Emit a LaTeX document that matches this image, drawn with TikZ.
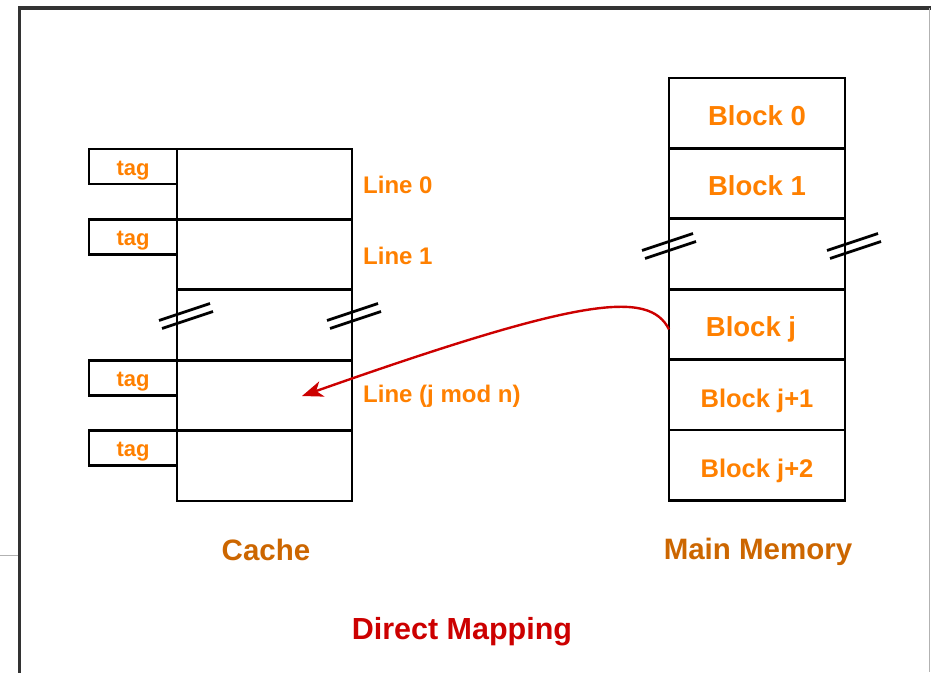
\documentclass[tikz,border=0pt]{standalone}
\usepackage{fontspec}
\setmainfont{Liberation Sans}
\usetikzlibrary{arrows.meta}

\definecolor{lblorange}{RGB}{255,128,0}
\definecolor{capbrown}{RGB}{204,102,0}
\definecolor{maproute}{RGB}{204,0,0}

\tikzset{
  slot/.style={draw, line width=2.8pt, minimum width=175pt, minimum height=70.4pt,
    inner sep=0pt, outer sep=0pt, text height=24.5pt, text depth=0pt,
    text=lblorange, font=\bfseries\fontsize{27.5}{30}\selectfont},
  tagbox/.style={draw, line width=2.8pt, minimum width=88pt, minimum height=35pt,
    inner sep=0pt, outer sep=0pt, text height=17pt, text depth=0pt,
    text=lblorange, font=\bfseries\fontsize{22}{24}\selectfont},
  linelbl/.style={inner sep=0pt, anchor=west, text=lblorange, font=\bfseries\fontsize{24}{26}\selectfont},
  caplbl/.style={text=capbrown, font=\bfseries\fontsize{29.5}{32}\selectfont},
  cut/.style={line width=2.8pt},
}

% two short slanted strokes across a column edge
\newcommand{\cutmark}[1]{%
  \draw[cut] ([shift={(-27,4.5)}]#1) -- ++(51,-17);
  \draw[cut] ([shift={(-24,12.5)}]#1) -- ++(51,-17);
}

\begin{document}
\begin{tikzpicture}[x=1pt, y=-1pt]
  \useasboundingbox (0,0) rectangle (931,672);

  % frame
  \draw[line width=3.5pt, black!80] (19.5,700) -- (19.5,8) -- (931,8);
  \draw[line width=1pt, black!30] (929.5,8) -- (929.5,672);
  \draw[line width=1pt, black!30] (0,555) -- (18,555);

  % cache lines
  \node[slot] (cline0) at (264.5,184.2) {};
  \node[slot] (cline1) at (264.5,254.6) {};
  \node[slot] (cgap)   at (264.5,325.0) {};
  \node[slot] (clinej) at (264.5,395.4) {};
  \node[slot] (clinek) at (264.5,465.8) {};

  % tag fields
  \node[tagbox, anchor=north east] (tag0) at (cline0.north west) {tag};
  \node[tagbox, anchor=north east] (tag1) at (cline1.north west) {tag};
  \node[tagbox, anchor=north east] (tagj) at (clinej.north west) {tag};
  \node[tagbox, anchor=north east] (tagk) at (clinek.north west) {tag};

  \node[linelbl] (lbl0) at ([shift={(11,1)}]cline0.east) {Line 0};
  \node[linelbl] (lbl1) at ([shift={(11,1)}]cline1.east) {Line 1};
  \node[linelbl] (lblj) at ([shift={(11,1)}]clinej.east) {Line (j mod n)};

  % main memory blocks
  \node[slot, minimum width=176pt] (mblk0) at (757,113.2) {Block 0};
  \node[slot, minimum width=176pt] (mblk1) at (757,183.6) {Block 1};
  \node[slot, minimum width=176pt] (mgap)  at (757,254.0) {};
  \node[slot, minimum width=176pt] (mblkj) at (757,324.4) {\hspace*{-12pt}Block j};
  \node[slot, minimum width=176pt, font=\bfseries\fontsize{25.5}{28}\selectfont] (mblkj1) at (757,394.8) {Block j+1};
  \node[slot, minimum width=176pt, font=\bfseries\fontsize{25.5}{28}\selectfont] (mblkj2) at (757,465.2) {Block j+2};

  % breaks in both columns
  \coordinate (cutcl) at ([shift={(9,-9)}]cgap.west);
  \coordinate (cutcr) at ([shift={(2,-9)}]cgap.east);
  \coordinate (cutml) at ([shift={(0,-8)}]mgap.west);
  \coordinate (cutmr) at ([shift={(9,-8)}]mgap.east);
  \cutmark{cutcl}
  \cutmark{cutcr}
  \cutmark{cutml}
  \cutmark{cutmr}

  % block j goes to line j mod n
  \coordinate (jslot) at (302,396);
  \draw[maproute, line width=2.4pt, -{Stealth[length=21pt, width=16pt, inset=6pt]}]
    ([yshift=-5pt]mblkj.west) .. controls +(-20,-40) and (580,298) .. (jslot);

  \node[caplbl] (cachecap) at (266,550) {Cache};
  \node[caplbl] (memcap) at (758,552) {Main Memory};
  \node[text=maproute, font=\bfseries\fontsize{30.5}{33}\selectfont] (title) at (462,632) {Direct Mapping};
\end{tikzpicture}
\end{document}
